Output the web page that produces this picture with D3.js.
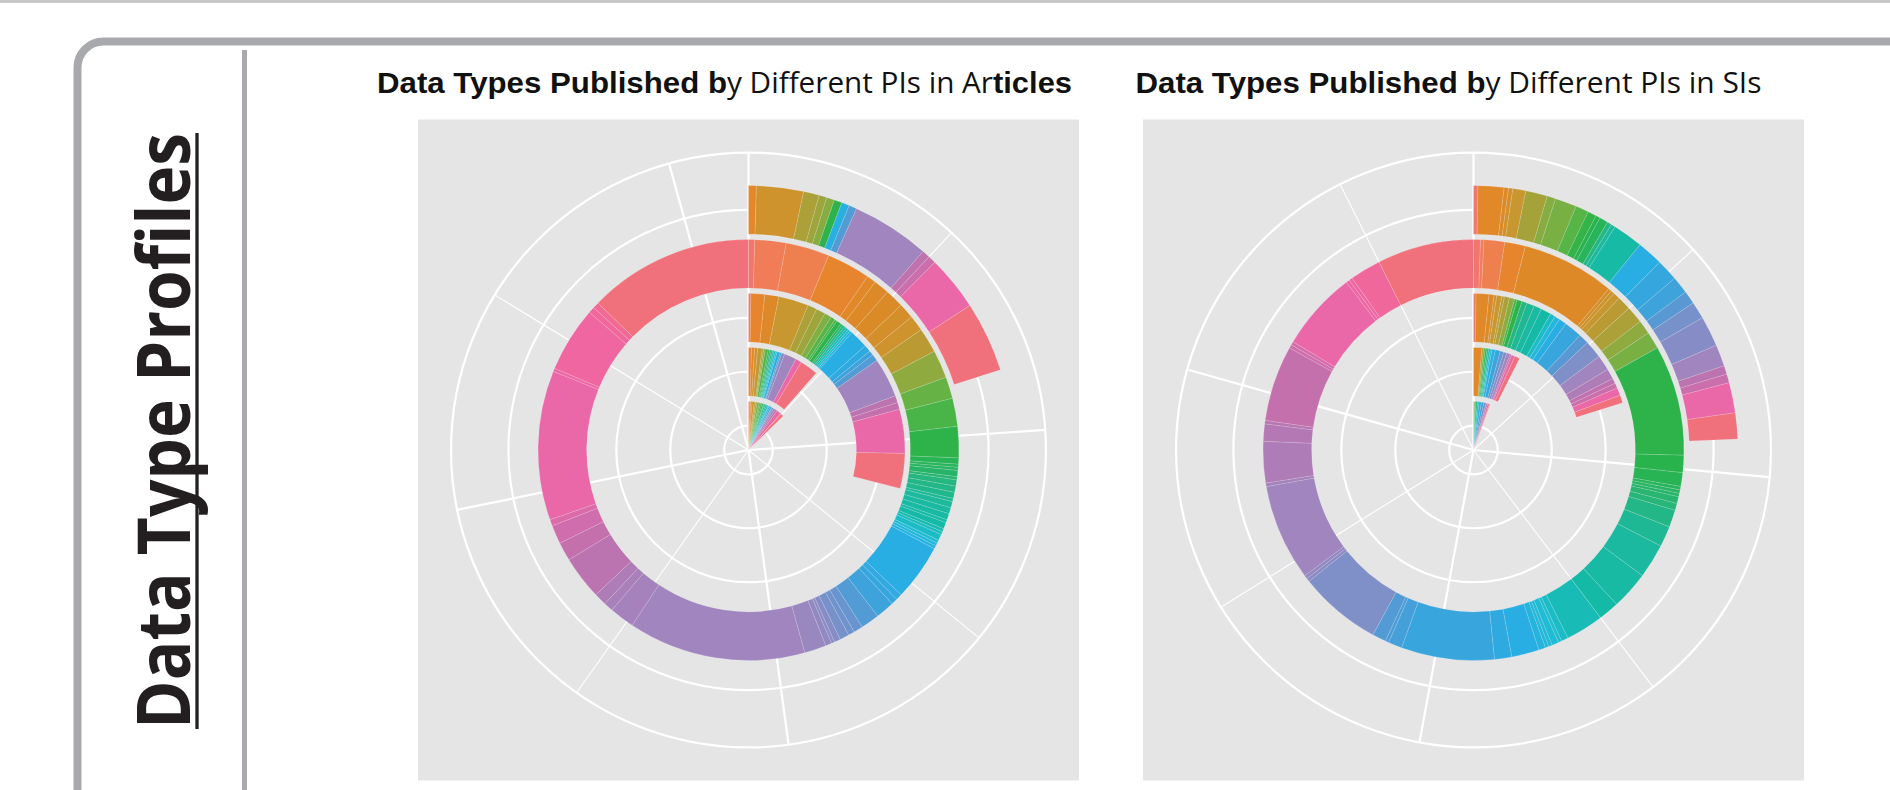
<!DOCTYPE html>
<html>
<head>
<meta charset="utf-8">
<script src="https://cdn.jsdelivr.net/npm/d3@7"></script>
<style>
  body { margin: 0; background: #fff; }
  svg { display: block; }
</style>
</head>
<body>
<svg id="chart" width="1890" height="790"></svg>
<script>
// radial axis: the five data types, inner to outer
const dataTypes = ["Type 1", "Type 2", "Type 3", "Type 4", "Type 5"];
// PIs are numbered 0..119, in the order of the colour wheel
const piCount = 120;

// [PI, data sets published] for each data type -- Articles
const articlesType1 = [[3,1],[7,2],[11,2],[14,3],[17,2],[21,2],[25,3],[30,2],[34,2],[38,2],[42,1],[46,2],[50,2],[55,2],[60,1],[65,2],[70,2],[75,1],[80,2],[85,3],[95,3],[104,6],[112,1],[119,4]];
const articlesType2 = [[7,2],[10,2],[13,2],[16,3],[20,1],[25,1],[30,2],[36,1],[42,1],[47,1],[51,1],[55,1],[59,1],[65,2],[73,1],[81,2],[85,8],[104,4],[119,12]];
const articlesType3 = [[0,1],[8,6],[11,6],[15,13],[19,4],[21,4],[25,3],[30,2],[33,1],[36,2],[40,1],[44,1],[49,1],[55,1],[59,1],[62,1],[65,8],[67,3],[71,2],[74,3],[85,17],[95,3],[97,3],[104,19],[119,15]];
const articlesType4 = [[0,2],[4,10],[5,14],[8,14],[10,3],[11,5],[12,6],[13,5],[14,5],[17,8],[23,9],[28,7],[32,9],[36,10],[38,2],[39,1],[40,1],[41,2],[42,1],[44,2],[45,2],[46,2],[47,1],[48,2],[50,2],[51,2],[52,1],[53,2],[54,1],[56,1],[57,2],[59,1],[61,1],[63,1],[65,18],[68,2],[69,2],[71,6],[74,6],[77,3],[78,2],[79,3],[81,2],[82,1],[83,2],[84,7],[85,57],[87,8],[89,3],[91,4],[95,14],[97,6],[99,6],[101,2],[104,48],[106,1],[109,21],[111,2],[113,2],[119,53]];
const articlesType5 = [[9,2],[14,12],[19,4],[21,2],[24,2],[36,2],[64,2],[74,2],[85,20],[96,2],[98,2],[104,14],[119,18]];

// [PI, data sets published] for each data type -- SIs
const sisType1 = [[20,1],[30,1],[36,1],[45,2],[55,2],[65,3],[71,3],[80,3],[89,2],[104,2],[119,1]];
const sisType2 = [[10,5],[20,1],[30,1],[36,1],[45,1],[52,1],[60,1],[65,2],[70,3],[76,2],[81,2],[85,2],[97,1],[104,2],[119,3]];
const sisType3 = [[0,1],[10,5],[12,2],[13,1],[15,2],[17,1],[19,2],[23,2],[32,1],[36,2],[44,2],[47,3],[50,3],[53,4],[57,2],[61,2],[65,3],[70,7],[75,4],[80,7],[85,6],[91,4],[96,2],[98,2],[104,3],[119,3]];
const sisType4 = [[0,2],[3,1],[5,6],[8,6],[11,27],[13,1],[14,1],[15,2],[17,4],[19,5],[23,4],[26,5],[36,32],[37,5],[38,4],[39,1],[40,1],[41,1],[42,2],[43,2],[45,5],[47,6],[49,10],[51,11],[53,6],[55,11],[57,2],[58,1],[59,2],[60,1],[61,1],[62,2],[65,8],[67,5],[70,27],[72,4],[73,1],[74,4],[80,24],[82,1],[83,1],[85,28],[87,1],[91,12],[93,5],[94,1],[97,22],[99,1],[100,1],[104,23],[107,1],[108,1],[111,9],[119,28]];
const sisType5 = [[0,1],[10,6],[12,1],[13,1],[15,3],[20,5],[24,2],[26,5],[30,3],[35,2],[37,1],[39,2],[45,1],[48,1],[52,7],[65,6],[69,5],[71,4],[75,3],[79,4],[81,7],[85,5],[95,2],[98,2],[104,7],[119,6]];

const articles = [articlesType1, articlesType2, articlesType3, articlesType4, articlesType5];
const sis = [sisType1, sisType2, sisType3, sisType4, sisType5];

// colour wheel (hue -> printed colour)
const hueStops = [15, 28, 40, 50, 60, 75, 90, 105, 125, 145, 160, 175, 190, 210, 225, 240, 255, 270, 290, 305, 325, 345, 360, 375];
const hueColours = ["#f0766e", "#f07e55", "#e6862a", "#dc8a26", "#c8972f", "#a5a23a", "#80af43", "#57b447", "#28b34a", "#27b57a", "#1cb99e", "#15baa8", "#1fbdd2", "#29aee4", "#38a5dd", "#5898d3", "#7f8fc8", "#a085be", "#af7cb6", "#c270ad", "#ea68a9", "#f066a0", "#f06c8c", "#f07178"];
const hue = d3.scaleLinear().domain([0, piCount]).range([15, 375]);
const colour = d3.scaleLinear().domain(hueStops).range(hueColours).interpolate(d3.interpolateRgb);

const svg = d3.select("#chart");
const grey = "#a7a9ac";

// thin strip along the top edge
svg.append("rect")
  .attr("x", 0).attr("y", 0)
  .attr("width", 1890).attr("height", 3)
  .attr("fill", "#c7c8ca");

// frame
svg.append("rect")
  .attr("x", 77.5).attr("y", 41.5)
  .attr("width", 2000).attr("height", 1000)
  .attr("rx", 26)
  .attr("fill", "none")
  .attr("stroke", grey)
  .attr("stroke-width", 8);

svg.append("line")
  .attr("x1", 244.5).attr("x2", 244.5)
  .attr("y1", 50).attr("y2", 800)
  .attr("stroke", grey)
  .attr("stroke-width", 5);

// side heading
let side = svg.append("g").attr("transform", "translate(190,729) rotate(-90)");
side.append("text")
  .attr("x", 0).attr("y", 0)
  .attr("textLength", 596)
  .attr("lengthAdjust", "spacingAndGlyphs")
  .style("font-family", "'Open Sans', sans-serif")
  .style("font-weight", 700)
  .style("font-size", "74px")
  .attr("fill", "#231f20")
  .text("Data Type Profiles");
side.append("line")
  .attr("x1", 0).attr("x2", 596)
  .attr("y1", 7).attr("y2", 7)
  .attr("stroke", "#231f20")
  .attr("stroke-width", 3.3);

function drawTitle(x, parts) {
  let cx = x;
  parts.forEach(p => {
    svg.append("text")
      .attr("x", cx).attr("y", 93)
      .attr("textLength", p.w)
      .attr("lengthAdjust", "spacingAndGlyphs")
      .style("font-family", p.bold ? "'Liberation Sans', Arial, sans-serif" : "'Open Sans', sans-serif")
      .style("font-weight", p.bold ? 700 : 400)
      .style("font-size", p.bold ? "30px" : "29px")
      .attr("fill", "#111")
      .text(p.t);
    cx += p.w;
  });
}

drawTitle(377, [
  { t: "Data Types Published b", w: 350, bold: true },
  { t: "y Different PIs in Ar", w: 266, bold: false },
  { t: "ticles", w: 79, bold: true }
]);
drawTitle(1135.5, [
  { t: "Data Types Published b", w: 350, bold: true },
  { t: "y Different PIs in SIs", w: 276, bold: false }
]);

function drawPanel(left, top, size, rings) {
  let total = d3.max(rings, r => d3.sum(r, d => d[1]));
  let theta = d3.scaleLinear().domain([0, total]).range([0, 2 * Math.PI]);
  let x = d3.scalePoint().domain(dataTypes).range([1, dataTypes.length]);
  let radius = d3.scaleLinear().domain([0.55, dataTypes.length + 0.45]).range([0, 0.4 * size]);

  let g = svg.append("g").attr("transform", `translate(${left},${top})`);
  g.append("rect")
    .attr("width", size).attr("height", size)
    .attr("fill", "#e5e5e5");

  let c = g.append("g").attr("transform", `translate(${size / 2},${size / 2})`);
  let rOuter = 0.45 * size;

  let major = theta.ticks(5);
  let step = major[1] - major[0];
  let minor = major.map(v => v + step / 2).filter(v => v < total);

  function spokes(values, width) {
    c.selectAll(null)
      .data(values)
      .enter().append("line")
      .attr("x1", 0).attr("y1", 0)
      .attr("x2", d => rOuter * Math.sin(theta(d)))
      .attr("y2", d => -rOuter * Math.cos(theta(d)))
      .attr("stroke", "#fff")
      .attr("stroke-width", width);
  }
  spokes(major, 2.2);
  spokes(minor, 1.1);

  c.selectAll(".ring")
    .data(dataTypes.map(d => radius(x(d))).concat([rOuter]))
    .enter().append("circle")
    .attr("class", "ring")
    .attr("r", d => d)
    .attr("fill", "none")
    .attr("stroke", "#fff")
    .attr("stroke-width", 2.2);

  rings.forEach((ring, i) => {
    let xi = x(dataTypes[i]);
    let arc = d3.arc()
      .innerRadius(radius(xi - 0.45))
      .outerRadius(radius(xi + 0.45));
    let y0 = 0;
    let segs = ring.map(d => {
      let s = { pi: d[0], a0: theta(y0), a1: theta(y0 + d[1]) };
      y0 += d[1];
      return s;
    });
    c.append("g").selectAll("path")
      .data(segs)
      .enter().append("path")
      .attr("d", d => arc({ startAngle: d.a0, endAngle: d.a1 }))
      .attr("fill", d => colour(hue(d.pi)))
      .attr("stroke", "rgba(255,255,255,0.28)")
      .attr("stroke-width", 0.5);
  });
}

drawPanel(418, 119.5, 661, articles);
drawPanel(1143, 119.5, 661, sis);
</script>
</body>
</html>
